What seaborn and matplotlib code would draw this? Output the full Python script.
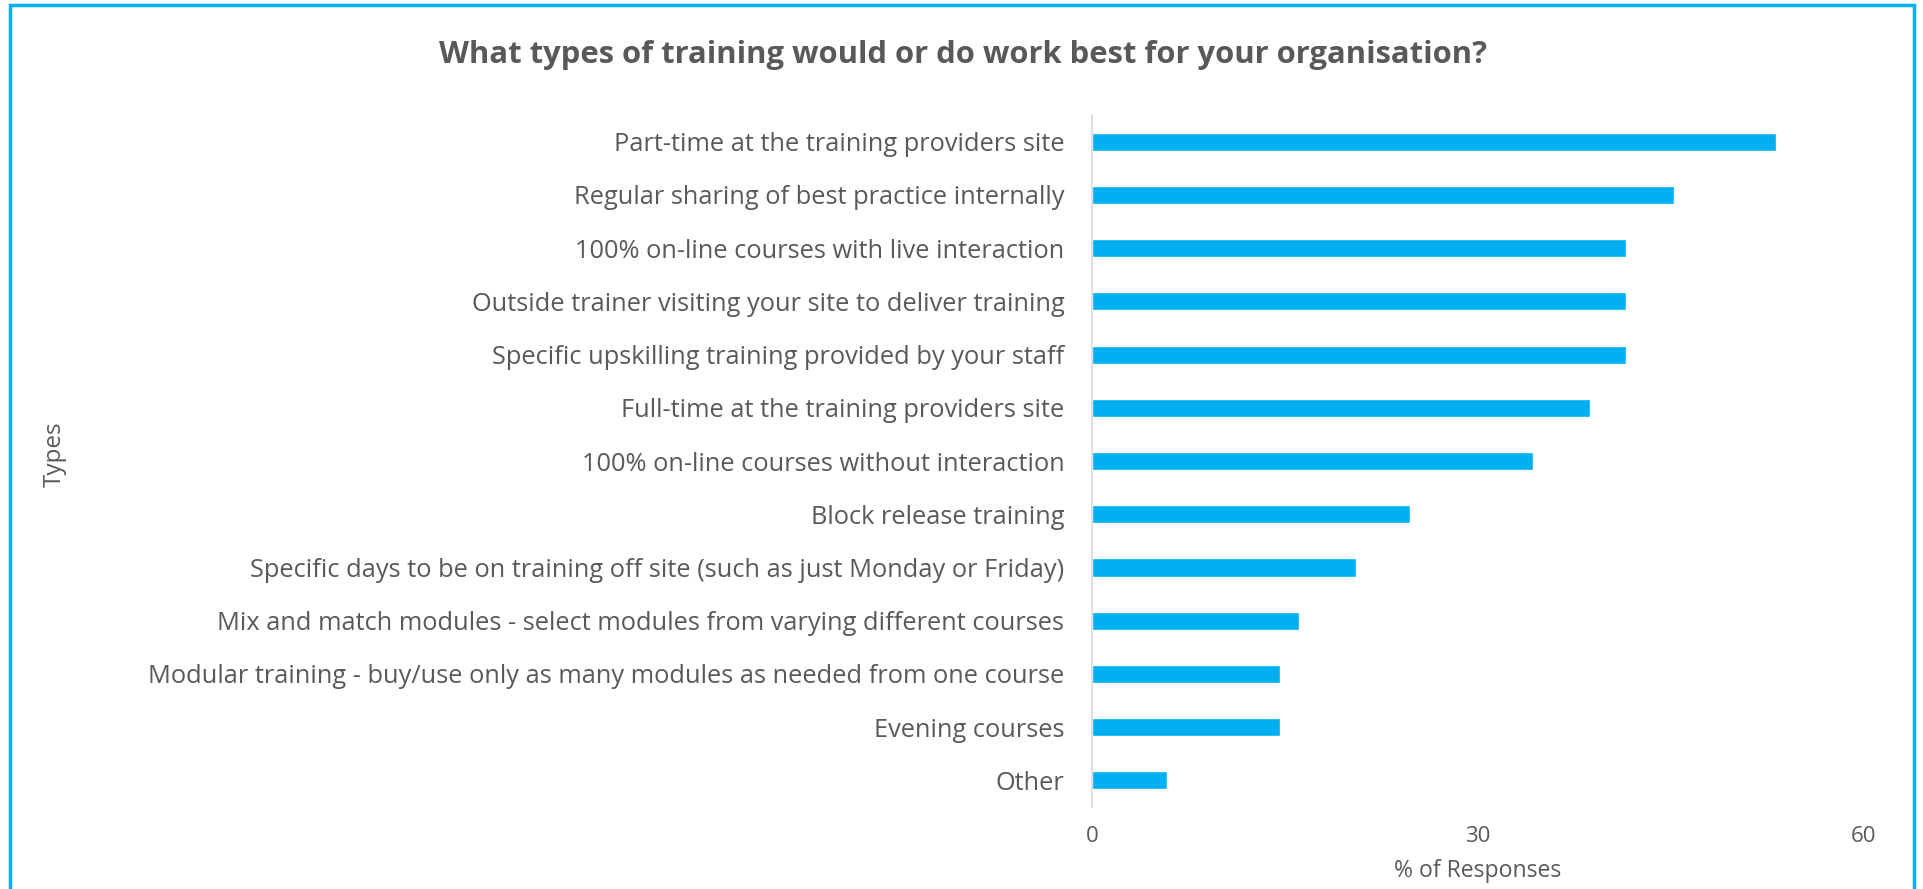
import pandas as pd
import seaborn as sns
import matplotlib.pyplot as plt
from matplotlib.patches import Rectangle

# data (top to bottom)
types = ['Part-time at the training providers site',
         'Regular sharing of best practice internally',
         '100% on-line courses with live interaction',
         'Outside trainer visiting your site to deliver training',
         'Specific upskilling training provided by your staff',
         'Full-time at the training providers site',
         '100% on-line courses without interaction',
         'Block release training',
         'Specific days to be on training off site (such as just Monday or Friday)',
         'Mix and match modules - select modules from varying different courses',
         'Modular training - buy/use only as many modules as needed from one course',
         'Evening courses',
         'Other']
responses = [53.2, 45.2, 41.5, 41.5, 41.5, 38.7, 34.3, 24.7, 20.5, 16.1, 14.6, 14.6, 5.8]
x_ticks = [0, 30, 60]

df = pd.DataFrame({'Types': types, 'Responses': responses})

sns.set_style('white')
plt.rcParams['font.family'] = ['Open Sans', 'DejaVu Sans']
grey = '#595959'

fig = plt.figure(figsize=(19.23, 8.89), dpi=100)
ax = fig.add_axes([0.5679, 0.0922, 0.4014, 0.7784])

sns.barplot(data=df, y='Types', x='Responses', color='#00B0F0', width=0.34,
            saturation=1, ax=ax, orient='h')

ax.set_xlim(0, 60)
ax.set_ylim(12.5, -0.5)
ax.set_xticks(x_ticks)
ax.tick_params(axis='x', length=0, pad=14, labelsize=16, labelcolor=grey)
ax.tick_params(axis='y', length=0, pad=20, labelsize=18.3, labelcolor=grey)
ax.set_xlabel('% of Responses', fontsize=16.6, color=grey, labelpad=8)
ax.set_ylabel('')
for s in ['top', 'right', 'bottom']:
    ax.spines[s].set_visible(False)
ax.spines['left'].set_color('#D9D9D9')
ax.spines['left'].set_linewidth(1.2)

fig.text(0.0286, 0.489, 'Types', rotation=90, fontsize=17.5, color=grey,
         ha='center', va='center')
fig.suptitle('What types of training would or do work best for your organisation?',
             x=0.501, y=0.938, fontsize=22.3, fontweight='bold', color=grey,
             va='center')

fig.patches.append(Rectangle((0.005, -0.05), 0.9905, 1.044, transform=fig.transFigure,
                             fill=False, edgecolor='#00B0F0', linewidth=2.5,
                             clip_on=False))

fig.savefig('out.png', dpi=100)
